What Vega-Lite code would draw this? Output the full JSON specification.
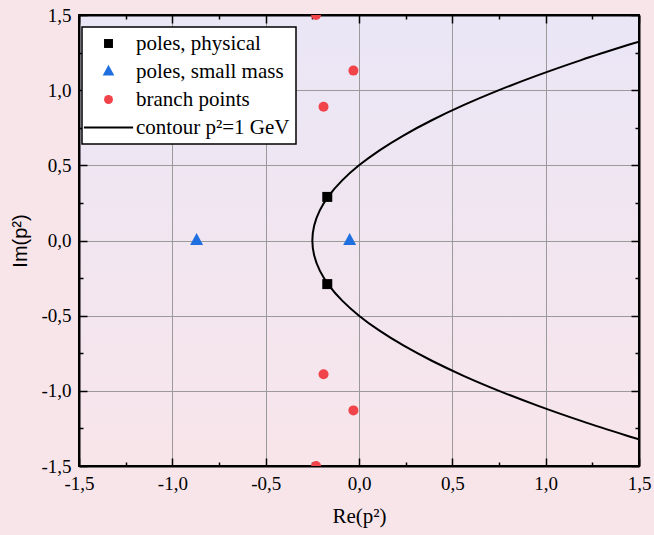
{
  "$schema": "https://vega.github.io/schema/vega-lite/v6.json",
  "width": 560,
  "height": 451,
  "autosize": "none",
  "padding": {"left": 79, "top": 15, "right": 15, "bottom": 69},
  "background": "#F8E5EA",
  "data": {
    "values": [
      {"series": "poles, physical", "re": -0.17, "im": 0.29},
      {"series": "poles, physical", "re": -0.17, "im": -0.29},
      {"series": "poles, small mass", "re": -0.87, "im": 0.0},
      {"series": "poles, small mass", "re": -0.05, "im": 0.0},
      {"series": "branch points", "re": -0.23, "im": 1.5},
      {"series": "branch points", "re": -0.03, "im": 1.13},
      {"series": "branch points", "re": -0.19, "im": 0.89},
      {"series": "branch points", "re": -0.19, "im": -0.89},
      {"series": "branch points", "re": -0.03, "im": -1.13},
      {"series": "branch points", "re": -0.23, "im": -1.5},
      {"series": "contour p²=1 GeV", "re": 1.5, "im": -1.3229},
      {"series": "contour p²=1 GeV", "re": 1.44, "im": -1.3},
      {"series": "contour p²=1 GeV", "re": 1.19, "im": -1.2},
      {"series": "contour p²=1 GeV", "re": 0.96, "im": -1.1},
      {"series": "contour p²=1 GeV", "re": 0.75, "im": -1.0},
      {"series": "contour p²=1 GeV", "re": 0.56, "im": -0.9},
      {"series": "contour p²=1 GeV", "re": 0.39, "im": -0.8},
      {"series": "contour p²=1 GeV", "re": 0.24, "im": -0.7},
      {"series": "contour p²=1 GeV", "re": 0.11, "im": -0.6},
      {"series": "contour p²=1 GeV", "re": 0.0, "im": -0.5},
      {"series": "contour p²=1 GeV", "re": -0.09, "im": -0.4},
      {"series": "contour p²=1 GeV", "re": -0.16, "im": -0.3},
      {"series": "contour p²=1 GeV", "re": -0.21, "im": -0.2},
      {"series": "contour p²=1 GeV", "re": -0.24, "im": -0.1},
      {"series": "contour p²=1 GeV", "re": -0.25, "im": 0.0},
      {"series": "contour p²=1 GeV", "re": -0.24, "im": 0.1},
      {"series": "contour p²=1 GeV", "re": -0.21, "im": 0.2},
      {"series": "contour p²=1 GeV", "re": -0.16, "im": 0.3},
      {"series": "contour p²=1 GeV", "re": -0.09, "im": 0.4},
      {"series": "contour p²=1 GeV", "re": 0.0, "im": 0.5},
      {"series": "contour p²=1 GeV", "re": 0.11, "im": 0.6},
      {"series": "contour p²=1 GeV", "re": 0.24, "im": 0.7},
      {"series": "contour p²=1 GeV", "re": 0.39, "im": 0.8},
      {"series": "contour p²=1 GeV", "re": 0.56, "im": 0.9},
      {"series": "contour p²=1 GeV", "re": 0.75, "im": 1.0},
      {"series": "contour p²=1 GeV", "re": 0.96, "im": 1.1},
      {"series": "contour p²=1 GeV", "re": 1.19, "im": 1.2},
      {"series": "contour p²=1 GeV", "re": 1.44, "im": 1.3},
      {"series": "contour p²=1 GeV", "re": 1.5, "im": 1.3229}
    ]
  },
  "resolve": {"axis": {"x": "independent", "y": "independent"}},
  "layer": [
    {
      "transform": [{"filter": "datum.series === 'contour p²=1 GeV'"}],
      "mark": {"type": "line", "color": "black", "strokeWidth": 2, "interpolate": "catmull-rom", "clip": true},
      "encoding": {
        "x": {
          "field": "re", "type": "quantitative",
          "scale": {"domain": [-1.5, 1.5], "nice": false, "zero": false},
          "axis": {
            "orient": "bottom", "title": "Re(p²)", "grid": true,
            "values": [-1.5, -1.25, -1, -0.75, -0.5, -0.25, 0, 0.25, 0.5, 0.75, 1, 1.25, 1.5],
            "labelExpr": "abs(datum.value * 2 - round(datum.value * 2)) > 0.01 ? '' : replace(replace(format(datum.value, '.1f'), '.', ','), '−', '-')",
            "titleFont": "Liberation Serif", "titleFontSize": 21, "titleFontWeight": "normal", "titlePadding": 8
          }
        },
        "y": {
          "field": "im", "type": "quantitative",
          "scale": {"domain": [-1.5, 1.5], "nice": false, "zero": false},
          "axis": {
            "orient": "left", "title": "Im(p²)", "grid": true,
            "values": [-1.5, -1.25, -1, -0.75, -0.5, -0.25, 0, 0.25, 0.5, 0.75, 1, 1.25, 1.5],
            "labelExpr": "abs(datum.value * 2 - round(datum.value * 2)) > 0.01 ? '' : replace(replace(format(datum.value, '.1f'), '.', ','), '−', '-')",
            "titleFont": "Liberation Sans", "titleFontSize": 20, "titleFontWeight": "normal", "titlePadding": 10
          }
        },
        "order": {"field": "im", "type": "quantitative"}
      }
    },
    {
      "transform": [{"filter": "datum.series !== 'contour p²=1 GeV'"}],
      "mark": {"type": "point", "filled": true, "opacity": 1, "size": 100, "clip": true},
      "encoding": {
        "x": {
          "field": "re", "type": "quantitative",
          "axis": {
            "orient": "top", "title": null, "labels": false, "grid": false,
            "values": [-1.5, -1.25, -1, -0.75, -0.5, -0.25, 0, 0.25, 0.5, 0.75, 1, 1.25, 1.5]
          }
        },
        "y": {
          "field": "im", "type": "quantitative",
          "axis": {
            "orient": "right", "title": null, "labels": false, "grid": false,
            "values": [-1.5, -1.25, -1, -0.75, -0.5, -0.25, 0, 0.25, 0.5, 0.75, 1, 1.25, 1.5]
          }
        },
        "color": {
          "field": "series", "type": "nominal",
          "scale": {
            "domain": ["poles, physical", "poles, small mass", "branch points", "contour p²=1 GeV"],
            "range": ["#000000", "#1f6fe0", "#f0434a", "#000000"]
          },
          "legend": {"title": null}
        },
        "shape": {
          "field": "series", "type": "nominal",
          "scale": {
            "domain": ["poles, physical", "poles, small mass", "branch points", "contour p²=1 GeV"],
            "range": ["square", "M0,-1.5L1.3,0.9L-1.3,0.9Z", "circle", "M-5.5,-0.2H5.5V0.2H-5.5Z"]
          },
          "legend": {"title": null}
        }
      }
    }
  ],
  "config": {
    "view": {
      "stroke": "black",
      "strokeWidth": 2,
      "fill": {
        "gradient": "linear", "x1": 0, "y1": 0, "x2": 0, "y2": 1,
        "stops": [{"offset": 0, "color": "#EAE6F6"}, {"offset": 1, "color": "#F8E5EA"}]
      }
    },
    "axis": {
      "domainColor": "black", "domainWidth": 2,
      "tickColor": "black", "tickWidth": 1.5,
      "tickSize": {"condition": {"test": "abs(datum.value * 2 - round(datum.value * 2)) > 0.01", "value": -4}, "value": -8},
      "gridColor": "#9a9a9a", "gridWidth": 1,
      "gridOpacity": {"condition": {"test": "abs(datum.value * 2 - round(datum.value * 2)) > 0.01", "value": 0}, "value": 1},
      "labelFont": "Liberation Serif", "labelFontSize": 19, "labelColor": "black",
      "labelPadding": 16, "labelFlush": false, "labelOverlap": false,
      "titleColor": "black"
    },
    "legend": {
      "orient": "none", "legendX": 3, "legendY": 12,
      "fillColor": "white", "strokeColor": "black", "strokeWidth": 1.5,
      "padding": 6, "rowPadding": 6,
      "symbolOffset": 10, "labelOffset": 17, "symbolSize": 80,
      "labelFont": "Liberation Serif", "labelFontSize": 21, "labelColor": "black",
      "labelLimit": 300
    }
  }
}
